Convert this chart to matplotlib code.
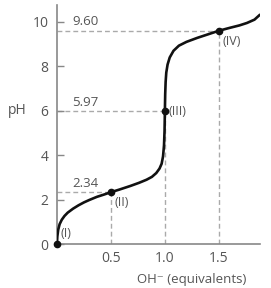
import matplotlib
matplotlib.use('Agg')
import matplotlib.pyplot as plt

# titration curve (OH- equivalents, pH)
eq = [0.000, 0.004, 0.012, 0.025, 0.045, 0.07, 0.10, 0.15, 0.20, 0.25, 0.30,
      0.37, 0.44, 0.50, 0.58, 0.68, 0.76, 0.83, 0.88, 0.92, 0.95, 0.97,
      0.983, 0.992, 0.997, 1.000, 1.003, 1.007, 1.013, 1.025, 1.045, 1.08,
      1.13, 1.20, 1.30, 1.40, 1.50, 1.60, 1.69, 1.76, 1.83, 1.88]
ph = [0.00, 0.35, 0.65, 0.90, 1.10, 1.27, 1.42, 1.60, 1.75, 1.88, 1.99,
      2.13, 2.24, 2.34, 2.46, 2.62, 2.76, 2.90, 3.03, 3.20, 3.40, 3.62,
      3.95, 4.45, 5.10, 5.97, 6.75, 7.30, 7.72, 8.08, 8.40, 8.70,
      8.93, 9.10, 9.28, 9.44, 9.60, 9.73, 9.84, 9.95, 10.10, 10.32]

# marked points
pt_x = [0.0, 0.5, 1.0, 1.5]
pt_y = [0.0, 2.34, 5.97, 9.60]
pt_names = ['(I)', '(II)', '(III)', '(IV)']
value_labels = ['2.34', '5.97', '9.60']

plt.rcParams['font.family'] = ['Open Sans', 'DejaVu Sans']
txt = '#555555'
axc = '#888888'
dash = '#aaaaaa'

fig = plt.figure(figsize=(2.71, 2.88), dpi=100)
ax = fig.add_axes([0.210, 0.152, 0.749, 0.830])

for x, y in zip(pt_x[1:], pt_y[1:]):
    ax.plot([0, x], [y, y], ls=(0, (3.5, 2.2)), color=dash, lw=1.0, zorder=1)
    ax.plot([x, x], [0, y], ls=(0, (3.5, 2.2)), color=dash, lw=1.0, zorder=1)

ax.plot(eq, ph, color='#111111', lw=1.9, zorder=3, solid_capstyle='round')
ax.plot(pt_x, pt_y, 'o', color='#111111', ms=4.5, zorder=4, clip_on=False)

for x, y, lab in zip(pt_x[1:], pt_y[1:], value_labels):
    ax.text(0.14, y + 0.12, lab, color=txt, fontsize=9.5, ha='left', va='bottom')

ax.text(0.03, 0.2, pt_names[0], color=txt, fontsize=9, ha='left', va='bottom')
ax.text(0.53, 2.15, pt_names[1], color=txt, fontsize=9, ha='left', va='top')
ax.text(1.03, 5.97, pt_names[2], color=txt, fontsize=9, ha='left', va='center')
ax.text(1.53, 9.40, pt_names[3], color=txt, fontsize=9, ha='left', va='top')

ax.set_xlim(0, 1.88)
ax.set_ylim(0, 10.75)
ax.set_xticks([0.5, 1.0, 1.5])
ax.set_xticklabels(['0.5', '1.0', '1.5'])
ax.set_yticks([0, 2, 4, 6, 8, 10])
ax.tick_params(axis='x', length=0, pad=5, labelsize=10, labelcolor=txt)
ax.tick_params(axis='y', direction='in', length=5, width=1, color=axc,
               pad=6, labelsize=10, labelcolor=txt)

for s in ['top', 'right']:
    ax.spines[s].set_visible(False)
for s in ['left', 'bottom']:
    ax.spines[s].set_color(axc)
    ax.spines[s].set_linewidth(1.2)

ax.text(-0.45, 6.0, 'pH', color=txt, fontsize=10, ha='left', va='center')
ax.text(1.25, -1.6, 'OH\u207b (equivalents)', color=txt, fontsize=9.5,
        ha='center', va='center')

plt.savefig('out.png', dpi=100)
